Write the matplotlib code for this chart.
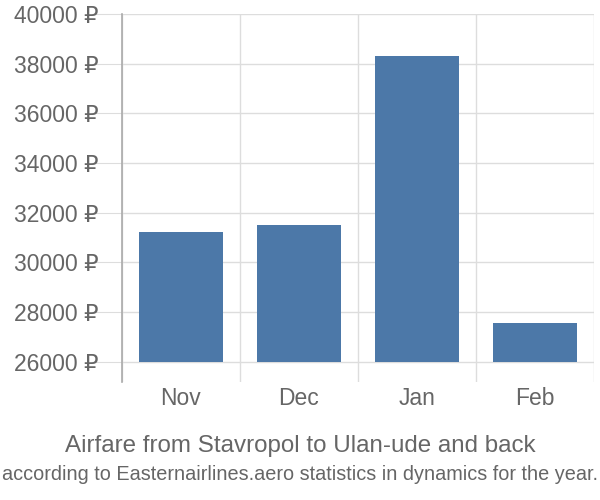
import numpy as np
import matplotlib
matplotlib.use("Agg")
import matplotlib.pyplot as plt
from matplotlib.ticker import FixedLocator

plt.rcParams['font.family'] = ['Liberation Sans', 'DejaVu Sans']

months = ["Nov", "Dec", "Jan", "Feb"]
prices = [31210, 31490, 38310, 27570]
yticks = [26000, 28000, 30000, 32000, 34000, 36000, 38000, 40000]
base = 26000

fig = plt.figure(figsize=(6, 5), dpi=100)
ax = fig.add_axes([0.2033, 0.2366, 0.7867, 0.7354])

x = np.arange(len(months))
ax.bar(x, [p - base for p in prices], bottom=base, width=0.72, color="#4C78A8", zorder=3)

ax.set_xlim(-0.5, len(months) - 0.5)
ax.set_ylim(25195, 40000)

ax.set_yticks(yticks)
ax.set_yticklabels([f"{v} ₽" for v in yticks])
ax.set_xticks(x)
ax.set_xticklabels(months)
ax.xaxis.set_minor_locator(FixedLocator(np.arange(-0.5, len(months), 1.0)))

ax.grid(axis="y", which="major", color="#dddddd", linewidth=1, zorder=0)
ax.grid(axis="x", which="minor", color="#dddddd", linewidth=1, zorder=0)
ax.tick_params(axis="y", length=22, color="#dddddd", labelsize=16.5, labelcolor="#666666", pad=-5)
ax.tick_params(axis="x", which="major", length=0, labelsize=16.5, labelcolor="#666666", pad=4)
ax.tick_params(axis="x", which="minor", length=0)

for s in ["top", "right", "bottom"]:
    ax.spines[s].set_visible(False)
ax.spines["left"].set_color("#aaaaaa")
ax.spines["left"].set_linewidth(1.2)

fig.text(0.5, 0.108, "Airfare from Stavropol to Ulan-ude and back", ha="center", va="center",
         fontsize=17.4, color="#666666")
fig.text(0.5, 0.052, "according to Easternairlines.aero statistics in dynamics for the year.",
         ha="center", va="center", fontsize=14.3, color="#666666")

fig.savefig("out.png", dpi=100)
